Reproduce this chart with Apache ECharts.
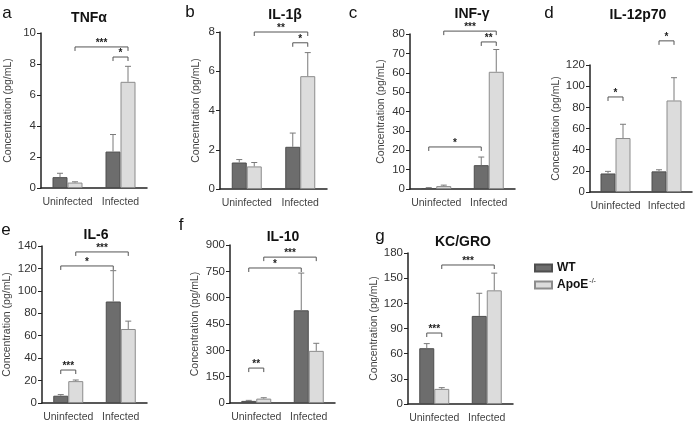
<!DOCTYPE html>
<html>
<head>
<meta charset="utf-8">
<script src="https://cdn.jsdelivr.net/npm/echarts@6/dist/echarts.min.js"></script>
<style>
  html, body { margin: 0; padding: 0; background: #fff; }
  #chart { width: 700px; height: 425px; }
</style>
</head>
<body>
<div id="chart"></div>
<script>
// data
const groups = ['Uninfected', 'Infected'];
const letters = ['a', 'b', 'c', 'd', 'e', 'f', 'g'];
const titles = ['TNFα', 'IL-1β', 'INF-γ', 'IL-12p70', 'IL-6', 'IL-10', 'KC/GRO'];
const yMax = [10, 8, 80, 120, 140, 900, 180];
const yStep = [2, 2, 10, 20, 20, 150, 30];

const wtMean = [[0.7, 2.35], [1.35, 2.15], [0.5, 12.3], [17.5, 19.5], [6.5, 90.5], [12, 528], [66.5, 105]];
const wtErr = [[0.25, 1.1], [0.15, 0.7], [0.2, 4.2], [2, 1.5], [1, 27.5], [3, 212], [5.5, 27]];
const apoMean = [[0.35, 6.85], [1.15, 5.75], [1.5, 60.5], [51, 86.5], [19.5, 66], [25, 297], [18, 135.5]];
const apoErr = [[0.05, 1.0], [0.2, 1.2], [0.5, 11.5], [13, 21.5], [1, 7], [5, 43], [1.5, 20.5]];

// significance: [fromBar, toBar, level, stars]; bars 0/1 = Uninfected WT/ApoE, 2/3 = Infected WT/ApoE
const sigA = [[1, 3, 9.1, '***'], [2, 3, 8.45, '*']];
const sigB = [[1, 3, 8.0, '**'], [2, 3, 7.45, '*']];
const sigC = [[1, 3, 81.5, '***'], [2, 3, 75.9, '**'], [0, 2, 21.7, '*']];
const sigD = [[0, 1, 89.8, '*'], [2, 3, 142.8, '*']];
const sigE = [[0, 1, 29.4, '***'], [0, 2, 122.2, '*'], [1, 3, 134.7, '***']];
const sigF = [[0, 1, 199, '**'], [0, 2, 769, '*'], [1, 3, 831, '***']];
const sigG = [[0, 1, 84.6, '***'], [1, 3, 165.7, '***']];
const sigs = [sigA, sigB, sigC, sigD, sigE, sigF, sigG];

// layout
const gridBox = [[41, 33, 106, 155], [220, 32, 107, 157], [410, 34, 105, 155], [590, 65, 102, 127],
                 [42, 246, 105, 157], [230, 245, 105, 158], [408, 253, 105, 151]];
const nameGaps = [27, 18, 23, 28, 29, 29, 27];
const letterPos = [[7, 13], [190, 12], [353, 13], [549, 13], [6, 230], [181, 225], [380, 236]];
const titlePos = [[89, 18], [285, 15], [472, 14], [638, 15], [96, 235], [283, 237], [463, 242]];

const BAR_W = 15;
const WT_COLOR = '#6d6d6d', WT_BORDER = '#4e4e4e';
const APO_COLOR = '#dcdcdc', APO_BORDER = '#8c8c8c';
const FONT = 'Liberation Sans, Arial, sans-serif';

const chart = echarts.init(document.getElementById('chart'));

const grid = [], xAxis = [], yAxis = [], series = [], graphic = [];

function barX(api, bar, val) {
    const cat = Math.floor(bar / 2), side = bar % 2;
    const p = api.coord([cat, val]);
    return [p[0] + (side - 0.5) * BAR_W, p[1]];
}

titles.forEach((t, i) => {
    const g = gridBox[i];
    grid.push({ left: g[0], top: g[1], width: g[2], height: g[3], containLabel: false });
    xAxis.push({
        type: 'category', gridIndex: i, data: groups,
        axisLine: { lineStyle: { color: '#222', width: 1.5 } },
        axisTick: { alignWithLabel: true, length: 3, lineStyle: { color: '#222' } },
        axisLabel: { fontSize: 10.5, color: '#444', margin: 9, fontFamily: FONT, interval: 0 }
    });
    yAxis.push({
        type: 'value', gridIndex: i, min: 0, max: yMax[i], interval: yStep[i],
        name: 'Concentration (pg/mL)', nameLocation: 'middle', nameGap: nameGaps[i],
        nameTextStyle: { fontSize: 10.5, color: '#444', fontFamily: FONT },
        axisLine: { show: true, lineStyle: { color: '#222', width: 1.5 } },
        axisTick: { show: true, length: 4, lineStyle: { color: '#222' } },
        axisLabel: { fontSize: 11.5, color: '#333', margin: 5, fontFamily: FONT },
        splitLine: { show: false }
    });
    series.push({
        name: 'WT', type: 'bar', xAxisIndex: i, yAxisIndex: i, data: wtMean[i],
        barWidth: BAR_W, barGap: '0%',
        itemStyle: { color: WT_COLOR, borderColor: WT_BORDER, borderWidth: 1 }
    });
    series.push({
        name: 'ApoE', type: 'bar', xAxisIndex: i, yAxisIndex: i, data: apoMean[i],
        barWidth: BAR_W, barGap: '0%',
        itemStyle: { color: APO_COLOR, borderColor: APO_BORDER, borderWidth: 1 }
    });
    // error bars (upper only)
    const errData = [];
    [0, 1].forEach(c => {
        errData.push([c, wtMean[i][c], wtMean[i][c] + wtErr[i][c], 0]);
        errData.push([c, apoMean[i][c], apoMean[i][c] + apoErr[i][c], 1]);
    });
    series.push({
        type: 'custom', xAxisIndex: i, yAxisIndex: i, data: errData, z: 3,
        encode: { x: 0, y: 2 },
        renderItem: (params, api) => {
            const bar = api.value(0) * 2 + api.value(3);
            const base = barX(api, bar, api.value(1));
            const top = barX(api, bar, api.value(2));
            const style = { stroke: '#7a7a7a', lineWidth: 1 };
            return {
                type: 'group', children: [
                    { type: 'line', shape: { x1: base[0], y1: base[1], x2: top[0], y2: top[1] }, style },
                    { type: 'line', shape: { x1: top[0] - 3, y1: top[1], x2: top[0] + 3, y2: top[1] }, style }
                ]
            };
        }
    });
    // significance brackets
    const list = sigs[i];
    series.push({
        type: 'custom', xAxisIndex: i, yAxisIndex: i, z: 4,
        data: list.map(s => [0, s[2]]),
        encode: { x: 0, y: 1 },
        renderItem: (params, api) => {
            const s = list[params.dataIndex];
            const a = barX(api, s[0], s[2]);
            const b = barX(api, s[1], s[2]);
            const y = a[1];
            return {
                type: 'group', children: [
                    { type: 'polyline', shape: { points: [[a[0], y + 4], [a[0], y], [b[0], y], [b[0], y + 4]] },
                      style: { stroke: '#555', lineWidth: 1, fill: null } },
                    { type: 'text', x: (a[0] + b[0]) / 2, y: y + 1,
                      style: { text: s[3], fill: '#222', font: 'bold 10px ' + FONT, align: 'center', verticalAlign: 'bottom' } }
                ]
            };
        }
    });
    graphic.push({
        type: 'text', x: letterPos[i][0], y: letterPos[i][1],
        style: { text: letters[i], fill: '#111', font: '17px ' + FONT, align: 'center', verticalAlign: 'middle' }
    });
    graphic.push({
        type: 'text', x: titlePos[i][0], y: titlePos[i][1],
        style: { text: t, fill: '#111', font: 'bold 14px ' + FONT, align: 'center', verticalAlign: 'middle' }
    });
});

chart.setOption({
    animation: false,
    grid, xAxis, yAxis, series, graphic,
    legend: {
        data: ['WT', 'ApoE'], orient: 'vertical', left: 529, top: 257,
        itemWidth: 17, itemHeight: 7, itemGap: 4, icon: 'rect', selectedMode: false,
        formatter: name => name === 'ApoE' ? '{b|ApoE}{s|-/-}' : '{b|WT}',
        textStyle: {
            rich: {
                b: { fontSize: 12, fontWeight: 'bold', color: '#111', fontFamily: FONT, lineHeight: 14 },
                s: { fontSize: 7, color: '#111', fontFamily: FONT, verticalAlign: 'top', lineHeight: 14, padding: [0, 0, 6, 1] }
            }
        }
    }
});
</script>
</body>
</html>
